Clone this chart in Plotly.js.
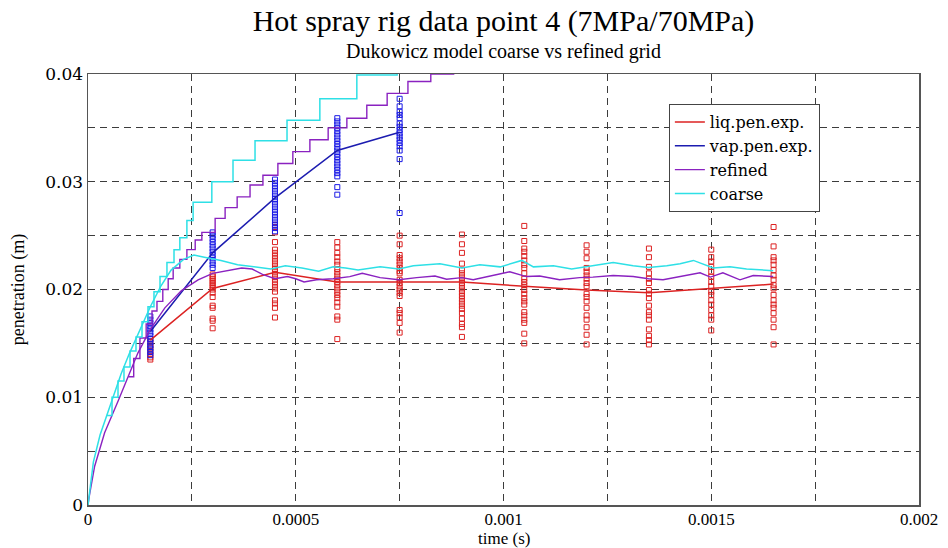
<!DOCTYPE html>
<html><head><meta charset="utf-8">
<script src="https://cdn.plot.ly/plotly-3.0.1.min.js"></script>
<style>html,body{margin:0;padding:0;background:#fff}#chart{width:948px;height:548px}</style>
</head><body><div id="chart"></div>
<script>
// ---- Experimental liquid penetration (sample columns) ----
var liqTimes = [0.00015, 0.0003, 0.00045, 0.0006, 0.00075, 0.0009, 0.00105, 0.0012, 0.00135, 0.0015, 0.00165];
var liqMean  = [0.0153, 0.0201, 0.0216, 0.0207, 0.0207, 0.0207, 0.0203, 0.01995, 0.0197, 0.0201, 0.0205];
var liqSamples = [
  [0.0154,0.0151,0.0148,0.0146,0.0143,0.0140,0.0137,0.0135],
  [0.0214,0.0212,0.0210,0.0208,0.0206,0.0204,0.0202,0.0200,0.0197,0.0193,0.0185,0.0183,0.0173,0.0171,0.0164],
  [0.0260,0.0258,0.0253,0.0244,0.0237,0.0234,0.0231,0.0228,0.0225,0.0222,0.0219,0.0216,0.0213,0.0210,0.0207,0.0204,0.0201,0.0198,0.0190,0.0187,0.0183,0.0174],
  [0.0244,0.0239,0.0234,0.0230,0.0226,0.0223,0.0219,0.0216,0.0213,0.0210,0.0207,0.0204,0.0201,0.0198,0.0195,0.0192,0.0188,0.0184,0.0175,0.0172,0.0154],
  [0.0250,0.0242,0.0232,0.0229,0.0226,0.0223,0.0220,0.0217,0.0215,0.0209,0.0206,0.0203,0.0200,0.0197,0.0194,0.0181,0.0178,0.0174,0.0169,0.0160],
  [0.0251,0.0242,0.0234,0.0224,0.0218,0.0215,0.0212,0.0209,0.0206,0.0203,0.0200,0.0197,0.0194,0.0191,0.0188,0.0185,0.0182,0.0178,0.0173,0.0168,0.0165,0.0156],
  [0.0259,0.0245,0.0238,0.0235,0.0231,0.0227,0.0223,0.0220,0.0215,0.0210,0.0207,0.0204,0.01995,0.0196,0.0192,0.0189,0.0186,0.0179,0.0176,0.0172,0.0169,0.0159,0.0150],
  [0.0241,0.0235,0.0229,0.0220,0.02165,0.0213,0.0210,0.0206,0.0203,0.0196,0.0193,0.0189,0.0183,0.0176,0.0172,0.0165,0.0158,0.0149],
  [0.0238,0.0230,0.0221,0.0215,0.0210,0.0206,0.01995,0.0196,0.0192,0.0185,0.0179,0.0176,0.0172,0.0163,0.0157,0.0153,0.0149],
  [0.0237,0.0230,0.0226,0.0221,0.02165,0.0212,0.0207,0.0203,0.0198,0.0195,0.0190,0.0186,0.0181,0.0176,0.0172,0.0162],
  [0.0258,0.0240,0.0230,0.0227,0.0223,0.0218,0.0213,0.0209,0.0204,0.0201,0.0195,0.0190,0.0186,0.0183,0.0178,0.0172,0.0165,0.0149]
];

// ---- Experimental vapour penetration (sample columns) ----
var vapTimes = [0.00015, 0.0003, 0.00045, 0.0006, 0.00075];
var vapMean  = [0.0161, 0.0234, 0.0285, 0.0329, 0.0346];
var vapSamples = [
  [0.0175,0.0172,0.0169,0.0166,0.0163,0.0160,0.0157,0.0154,0.0151,0.0148,0.0145,0.0142,0.0139],
  [0.0253,0.0250,0.0247,0.0244,0.0241,0.0238,0.0235,0.0232,0.0229,0.0226,0.0223,0.0220],
  [0.0302,0.0299,0.0296,0.0293,0.0290,0.0287,0.0284,0.0281,0.0278,0.0275,0.0272,0.0269,0.0266,0.0263,0.0260,0.0257,0.0254],
  [0.0359,0.0356,0.0353,0.0350,0.0347,0.0344,0.0341,0.0338,0.0335,0.0332,0.0329,0.0326,0.0323,0.0320,0.0317,0.0314,0.0311,0.0308,0.0305,0.0295,0.0288],
  [0.0377,0.0370,0.0365,0.0362,0.0359,0.0354,0.0351,0.0348,0.0345,0.0342,0.0339,0.0336,0.0333,0.0329,0.0321,0.0271]
];

// ---- Refined grid model ----
var refLiqT = [0,3e-6,1.6e-5,4e-5,7.3e-5,9.7e-5,1.2e-4,1.5e-4,1.85e-4,2.25e-4,2.65e-4,3.0e-4,3.4e-4,3.7e-4,3.95e-4,4.2e-4,4.5e-4,4.8e-4,5.0e-4,5.2e-4,5.5e-4,5.9e-4,6.3e-4,6.6e-4,7.03e-4,7.48e-4,7.91e-4,8.35e-4,8.63e-4,9.0e-4,9.27e-4,9.67e-4,1.015e-3,1.055e-3,1.087e-3,1.135e-3,1.183e-3,1.215e-3,1.264e-3,1.312e-3,1.349e-3,1.384e-3,1.44e-3,1.473e-3,1.498e-3,1.528e-3,1.569e-3,1.601e-3,1.649e-3];
var refLiqY = [0,0.0008,0.0036,0.0067,0.0097,0.0119,0.0141,0.0163,0.0183,0.0199,0.0209,0.0215,0.0218,0.0220,0.0219,0.0214,0.0210,0.0212,0.0210,0.0207,0.0209,0.0210,0.0212,0.0215,0.0211,0.0209,0.0211,0.02125,0.02095,0.0211,0.0209,0.02125,0.02165,0.0212,0.02125,0.0209,0.0211,0.02115,0.0213,0.0212,0.0210,0.0209,0.0213,0.02155,0.02115,0.02155,0.0209,0.0213,0.0212];
// vapour tip (stair-stepped), starting where it leaves the liquid curve
var refVapT = [9.7e-5,1.1e-4,1.25e-4,1.4e-4,1.54e-4,1.66e-4,1.8e-4,1.93e-4,2.05e-4,2.21e-4,2.38e-4,2.58e-4,2.74e-4,3.06e-4,3.3e-4,3.59e-4,3.9e-4,4.21e-4,4.57e-4,4.93e-4,5.34e-4,5.78e-4,6.23e-4,6.71e-4,7.2e-4,7.7e-4,8.25e-4,8.8e-4];
var refVapY = [0.0119,0.0136,0.0155,0.0168,0.0180,0.0189,0.0200,0.0210,0.0220,0.0228,0.0237,0.0246,0.0253,0.0266,0.0276,0.0286,0.0297,0.0306,0.0317,0.0328,0.0339,0.0350,0.0359,0.0371,0.0382,0.0393,0.0400,0.0412];

// ---- Coarse grid model ----
var coaLiqT = [0,5e-6,1.3e-5,2.9e-5,4.5e-5,6e-5,8e-5,1.0e-4,1.25e-4,1.5e-4,1.75e-4,2.0e-4,2.3e-4,2.55e-4,2.8e-4,3.2e-4,3.6e-4,4.0e-4,4.4e-4,4.75e-4,5.15e-4,5.55e-4,5.9e-4,6.2e-4,6.5e-4,7.03e-4,7.48e-4,7.83e-4,8.47e-4,9.0e-4,9.43e-4,9.92e-4,1.044e-3,1.072e-3,1.12e-3,1.164e-3,1.2e-3,1.264e-3,1.312e-3,1.349e-3,1.393e-3,1.425e-3,1.457e-3,1.505e-3,1.545e-3,1.585e-3,1.649e-3];
var coaLiqY = [0,0.0015,0.0040,0.0065,0.0083,0.0101,0.0122,0.0141,0.0162,0.0184,0.0203,0.0218,0.0228,0.0232,0.0230,0.0227,0.0223,0.0221,0.0219,0.0222,0.0220,0.0217,0.0221,0.0220,0.0218,0.0221,0.0219,0.0222,0.0224,0.0220,0.0223,0.0221,0.0227,0.0221,0.0222,0.0219,0.0221,0.0225,0.0222,0.02205,0.0222,0.0224,0.0227,0.0220,0.0221,0.0219,0.02175];
var coaVapT = [4.5e-5,5.78e-5,7.22e-5,8.66e-5,1.011e-4,1.155e-4,1.3e-4,1.444e-4,1.588e-4,1.733e-4,1.9e-4,2.07e-4,2.21e-4,2.38e-4,2.53e-4,2.98e-4,3.49e-4,4.02e-4,4.79e-4,5.58e-4,6.47e-4,7.44e-4];
var coaVapY = [0.0083,0.0100,0.0115,0.0128,0.0143,0.0156,0.0170,0.0184,0.0198,0.0212,0.0225,0.0237,0.0248,0.0264,0.0281,0.0300,0.0320,0.0338,0.0357,0.0377,0.0399,0.0420];

// ---- Labels ----
var seriesNames = ['liq.pen.exp.', 'vap.pen.exp.', 'refined', 'coarse'];
var titleText = 'Hot spray rig data point 4 (7MPa/70MPa)';
var subtitleText = 'Dukowicz model coarse vs refined grid';
var xTitle = 'time (s)';
var yTitle = 'penetration (m)';

function flatten(times, cols) {
  var xs = [], ys = [];
  cols.forEach(function (col, i) {
    col.forEach(function (v) { xs.push(times[i]); ys.push(v); });
  });
  return {x: xs, y: ys};
}
var liqPts = flatten(liqTimes, liqSamples);
var vapPts = flatten(vapTimes, vapSamples);

var RED = '#dc2222', BLUE_M = '#1a1ae6', BLUE_L = '#1c1cb0', PURPLE = '#8a22c0', CYAN = '#2ee0e6';
var serif = 'Liberation Serif, Times New Roman, serif';
var wideSerif = 'DejaVu Serif, serif';

var traces = [
  {x: liqPts.x, y: liqPts.y, mode: 'markers', showlegend: false, hoverinfo: 'skip',
   marker: {symbol: 'square-open', size: 5, color: RED, line: {width: 1, color: RED}}},
  {x: vapPts.x, y: vapPts.y, mode: 'markers', showlegend: false, hoverinfo: 'skip',
   marker: {symbol: 'square-open', size: 5, color: BLUE_M, line: {width: 1, color: BLUE_M}}},
  {x: liqTimes, y: liqMean, mode: 'lines', name: seriesNames[0], line: {color: RED, width: 1.5}},
  {x: vapTimes, y: vapMean, mode: 'lines', name: seriesNames[1], line: {color: BLUE_L, width: 1.5}},
  {x: refLiqT, y: refLiqY, mode: 'lines', name: seriesNames[2], legendgroup: 'ref', line: {color: PURPLE, width: 1.4}},
  {x: refVapT, y: refVapY, mode: 'lines', name: seriesNames[2], legendgroup: 'ref', showlegend: false, line: {color: PURPLE, width: 1.4, shape: 'hv'}},
  {x: coaLiqT, y: coaLiqY, mode: 'lines', name: seriesNames[3], legendgroup: 'coa', line: {color: CYAN, width: 1.5}},
  {x: coaVapT, y: coaVapY, mode: 'lines', name: seriesNames[3], legendgroup: 'coa', showlegend: false, line: {color: CYAN, width: 1.5, shape: 'hv'}}
];

var GRID = '#3c3c3c', DASH = '7px,5px';

var layout = {
  width: 948, height: 548,
  margin: {l: 88, r: 29, t: 74, b: 43},
  paper_bgcolor: '#ffffff', plot_bgcolor: '#ffffff',
  showlegend: true,
  title: {text: titleText, font: {family: serif, size: 30, color: '#000'},
          xref: 'paper', x: 0.5, xanchor: 'center', yref: 'container', y: 0.962, yanchor: 'middle'},
  annotations: [
    {text: subtitleText, xref: 'paper', yref: 'paper', x: 0.5, y: 1.053, xanchor: 'center', yanchor: 'middle',
     showarrow: false, font: {family: serif, size: 20, color: '#000'}},
    {text: xTitle, xref: 'paper', yref: 'paper', x: 0.5, y: -0.1044, xanchor: 'center', yanchor: 'bottom',
     showarrow: false, font: {family: serif, size: 17, color: '#000'}}
  ],
  xaxis: {
    range: [0, 0.002], dtick: 0.0005, tick0: 0, tickformat: '~g',
    showgrid: true, gridcolor: GRID, griddash: DASH, gridwidth: 1,
    minor: {dtick: 0.00025, tick0: 0, showgrid: true, gridcolor: GRID, griddash: DASH, gridwidth: 1},
    showline: true, mirror: true, linecolor: '#555', linewidth: 1.5,
    zeroline: false, ticks: '', automargin: false, ticklabelstandoff: -2,
    tickfont: {family: serif, size: 17, color: '#000'}
  },
  yaxis: {
    range: [0, 0.04], dtick: 0.01, tick0: 0, tickformat: '~g',
    showgrid: true, gridcolor: GRID, griddash: DASH, gridwidth: 1,
    minor: {dtick: 0.005, tick0: 0, showgrid: true, gridcolor: GRID, griddash: DASH, gridwidth: 1},
    showline: true, mirror: true, linecolor: '#555', linewidth: 1.5,
    zeroline: false, ticks: '', automargin: false,
    tickfont: {family: wideSerif, size: 17, color: '#000'},
    title: {text: yTitle, font: {family: serif, size: 18, color: '#000'}, standoff: 16}
  },
  legend: {
    x: 0.699, y: 0.93, xanchor: 'left', yanchor: 'top',
    bgcolor: '#ffffff', bordercolor: '#444', borderwidth: 1,
    font: {family: wideSerif, size: 16, color: '#000'},
    tracegroupgap: 0, itemwidth: 30
  }
};

Plotly.newPlot('chart', traces, layout, {staticPlot: true, displayModeBar: false});
</script></body></html>
